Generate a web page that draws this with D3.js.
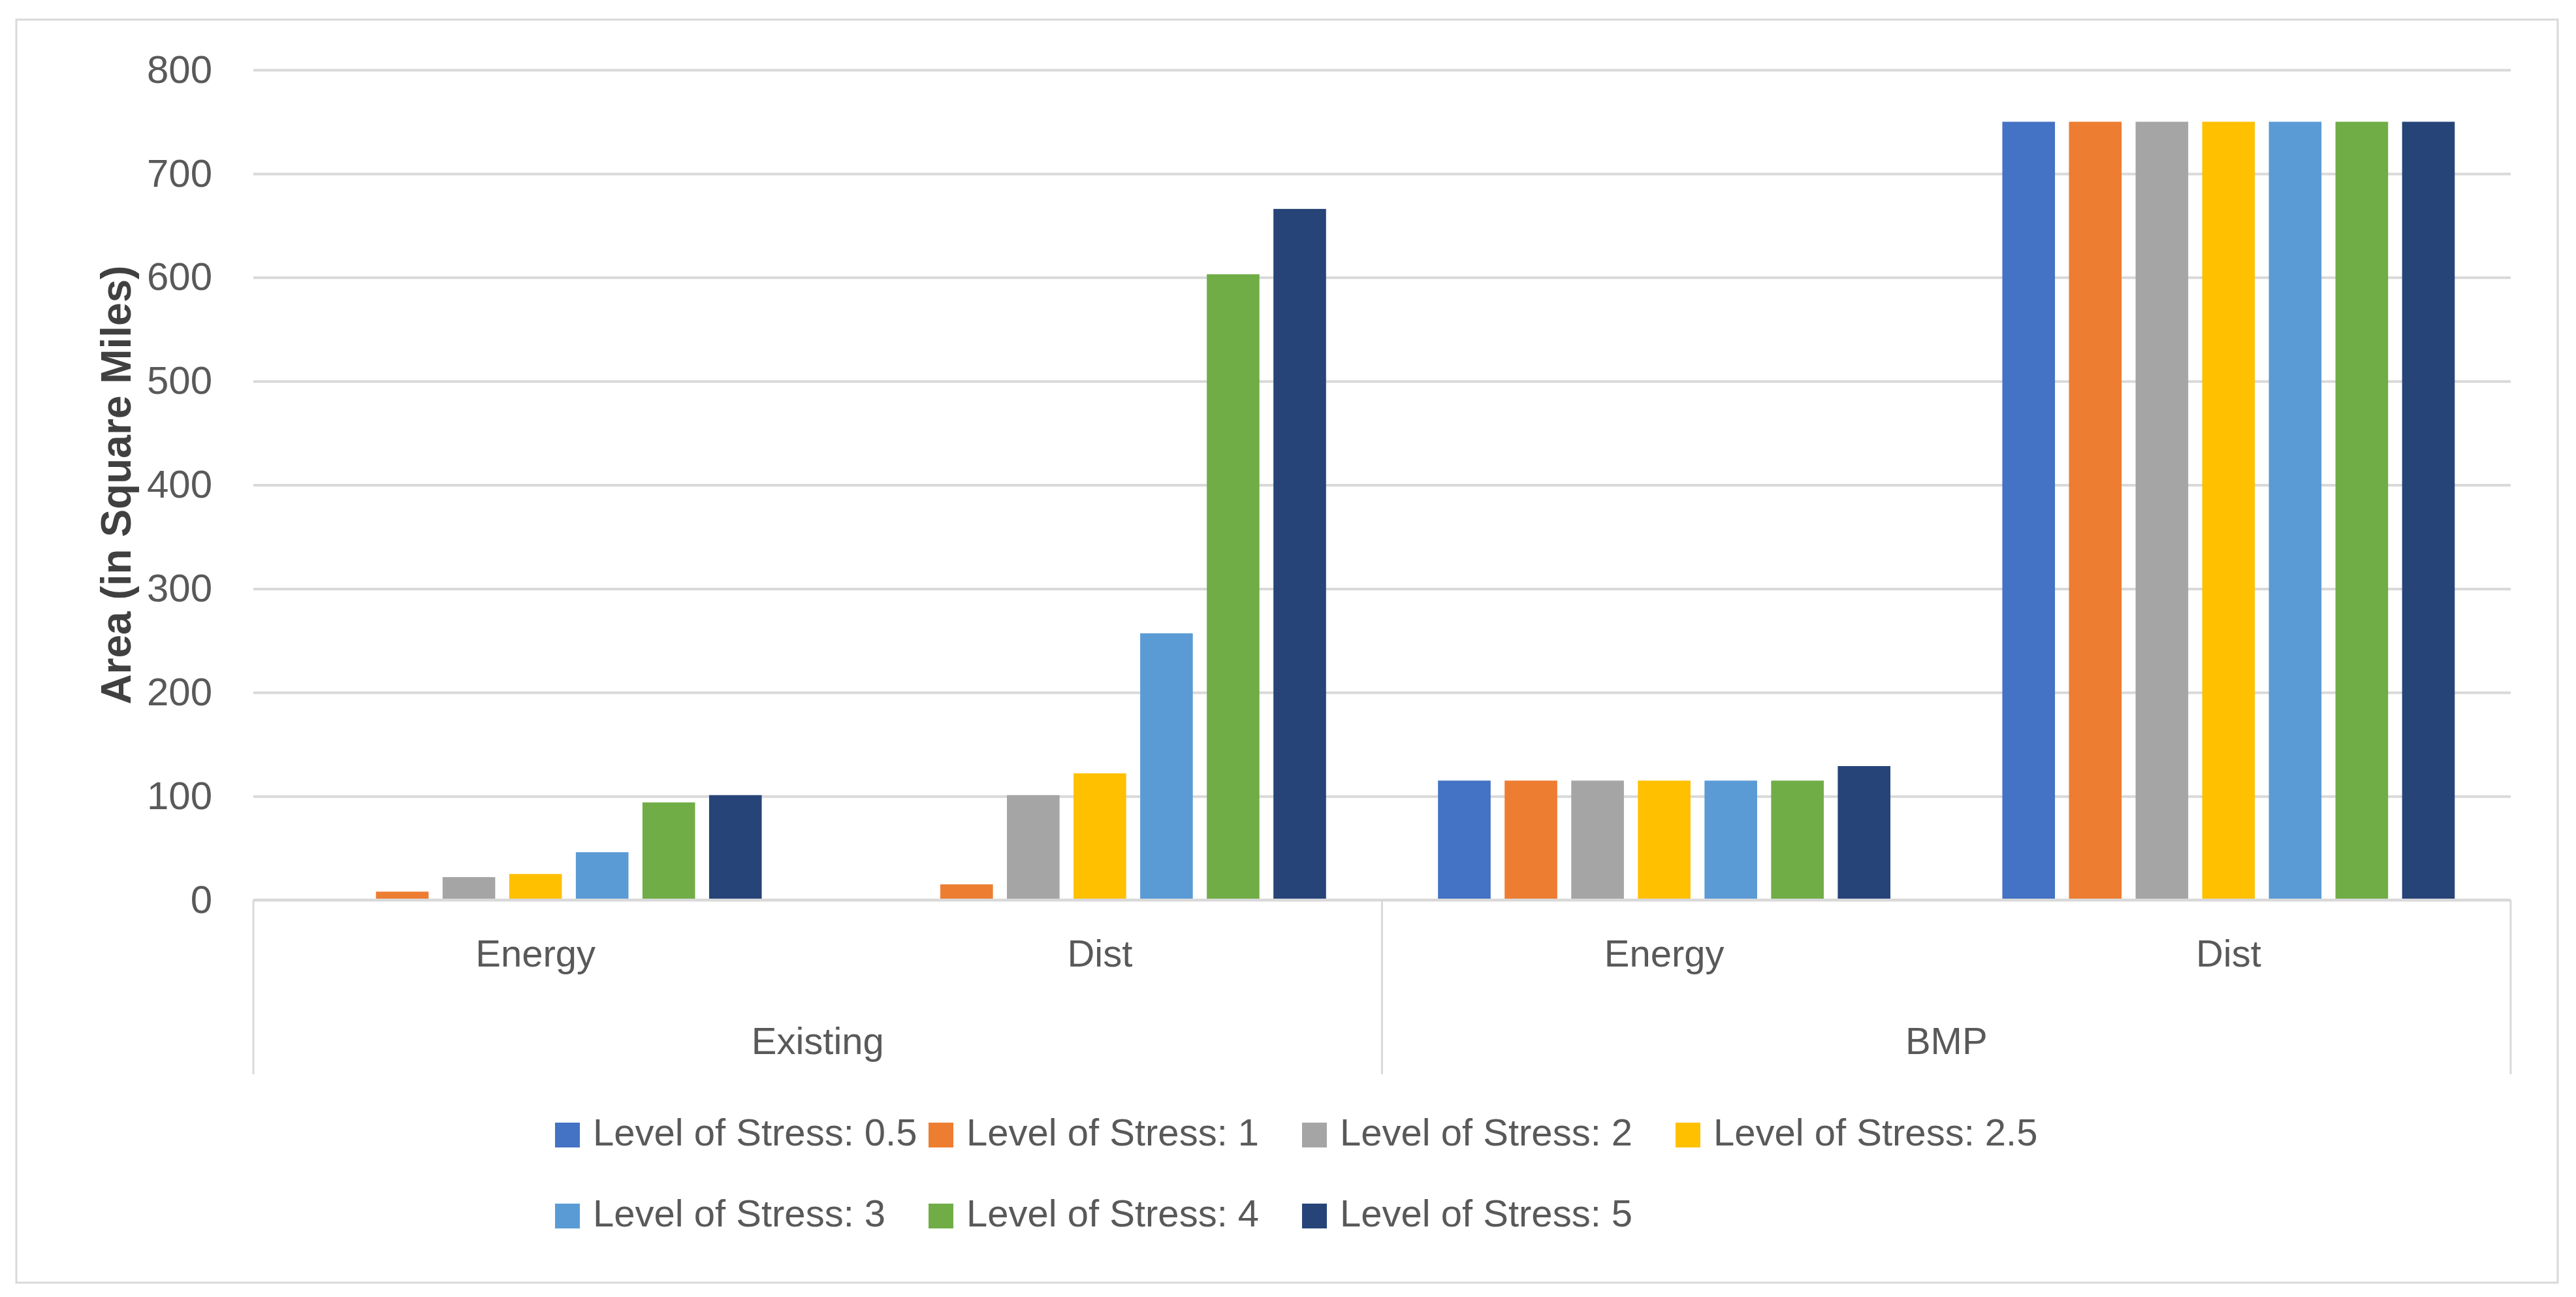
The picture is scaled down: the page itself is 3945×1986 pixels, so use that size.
<!DOCTYPE html>
<meta charset="utf-8">
<style>
body { margin: 0; background: #fff; }
text { font-family: "Liberation Sans", Arial, sans-serif; fill: #595959; }
</style>
<body>
<script src="https://cdnjs.cloudflare.com/ajax/libs/d3/7.8.5/d3.min.js"></script>
<script>

var series = ["Level of Stress: 0.5", "Level of Stress: 1", "Level of Stress: 2", "Level of Stress: 2.5",
              "Level of Stress: 3", "Level of Stress: 4", "Level of Stress: 5"];
var colors = ["#4472C4", "#ED7D31", "#A5A5A5", "#FFC000", "#5B9BD5", "#70AD47", "#264478"];
var groups = ["Existing", "BMP"];
var subcats = ["Energy", "Dist"];

// values per series, in the order: Existing/Energy, Existing/Dist, BMP/Energy, BMP/Dist
var existingEnergy = [0, 8, 22, 25, 46, 94, 101];
var existingDist   = [0, 15, 101, 122, 257, 603, 666];
var bmpEnergy      = [115, 115, 115, 115, 115, 115, 129];
var bmpDist        = [750, 750, 750, 750, 750, 750, 750];
var yTicks = [0, 100, 200, 300, 400, 500, 600, 700, 800];

var w = 3945, h = 1986;
var plotL = 388, plotR = 3845, plotT = 107, plotB = 1378;

var cats = [];
groups.forEach(function(g) {
  subcats.forEach(function(s) { cats.push(g + "|" + s); });
});
var rows = [existingEnergy, existingDist, bmpEnergy, bmpDist];

var svg = d3.select("body").append("svg")
  .attr("width", w)
  .attr("height", h);

svg.append("rect")
  .attr("x", 25).attr("y", 30)
  .attr("width", 3892).attr("height", 1934)
  .attr("fill", "#fff")
  .attr("stroke", "#d9d9d9")
  .attr("stroke-width", 3);

var y = d3.scaleLinear().domain([0, 800]).range([plotB, plotT]);
var x0 = d3.scaleBand().domain(cats).range([plotL, plotR]);
var x1 = d3.scaleBand().domain(series).range([0, x0.bandwidth()])
  .paddingInner(0.21).paddingOuter(0.84);

// grid + y labels
var yAxis = svg.append("g")
  .attr("transform", "translate(" + plotL + ",0)")
  .call(d3.axisLeft(y).tickValues(yTicks).tickSize(-(plotR - plotL)).tickPadding(63));
yAxis.select(".domain").remove();
yAxis.selectAll("line").attr("stroke", "#d9d9d9").attr("stroke-width", 4);
yAxis.selectAll("text")
  .style("font-size", "60px")
  .style("font-family", "'Liberation Sans', Arial, sans-serif")
  .attr("fill", "#595959");

// bars
var cg = svg.selectAll("g.cat")
  .data(cats)
  .enter().append("g")
  .attr("class", "cat")
  .attr("transform", function(d) { return "translate(" + x0(d) + ",0)"; });

cg.selectAll("rect")
  .data(function(d, i) { return rows[i].map(function(v, j) { return {s: series[j], v: v, c: colors[j]}; }); })
  .enter().append("rect")
  .attr("x", function(d) { return x1(d.s); })
  .attr("width", x1.bandwidth())
  .attr("y", function(d) { return y(d.v); })
  .attr("height", function(d) { return y(0) - y(d.v); })
  .attr("fill", function(d) { return d.c; });

// category axis
svg.append("line")
  .attr("x1", plotL).attr("x2", plotR)
  .attr("y1", plotB).attr("y2", plotB)
  .attr("stroke", "#d9d9d9").attr("stroke-width", 4);

var sepX = [plotL, x0(cats[2]), plotR];
svg.selectAll("line.sep")
  .data(sepX)
  .enter().append("line")
  .attr("class", "sep")
  .attr("x1", function(d) { return d; }).attr("x2", function(d) { return d; })
  .attr("y1", plotB).attr("y2", 1645)
  .attr("stroke", "#d9d9d9").attr("stroke-width", 3);

svg.selectAll("text.sub")
  .data(cats)
  .enter().append("text")
  .attr("class", "sub")
  .attr("x", function(d) { return x0(d) + x0.bandwidth() / 2; })
  .attr("y", 1480)
  .attr("text-anchor", "middle")
  .style("font-size", "58px")
  .text(function(d) { return d.split("|")[1]; });

svg.selectAll("text.grp")
  .data(groups)
  .enter().append("text")
  .attr("class", "grp")
  .attr("x", function(d) { return x0(d + "|" + subcats[0]) + x0.bandwidth(); })
  .attr("y", 1614)
  .attr("text-anchor", "middle")
  .style("font-size", "58px")
  .text(function(d) { return d; });

// y axis title
svg.append("text")
  .attr("transform", "translate(200," + ((plotT + plotB) / 2) + ") rotate(-90)")
  .attr("text-anchor", "middle")
  .style("font-size", "64px")
  .style("font-weight", "bold")
  .style("fill", "#404040")
  .text("Area (in Square Miles)");

// legend
var lg = svg.selectAll("g.leg")
  .data(series)
  .enter().append("g")
  .attr("class", "leg")
  .attr("transform", function(d, i) {
    return "translate(" + (850 + (i % 4) * 572) + "," + (i < 4 ? 1719 : 1843) + ")";
  });
lg.append("rect")
  .attr("width", 38).attr("height", 38)
  .attr("fill", function(d, i) { return colors[i]; });
lg.append("text")
  .attr("x", 58).attr("y", 35)
  .style("font-size", "58px")
  .text(function(d) { return d; });

</script>
</body>
